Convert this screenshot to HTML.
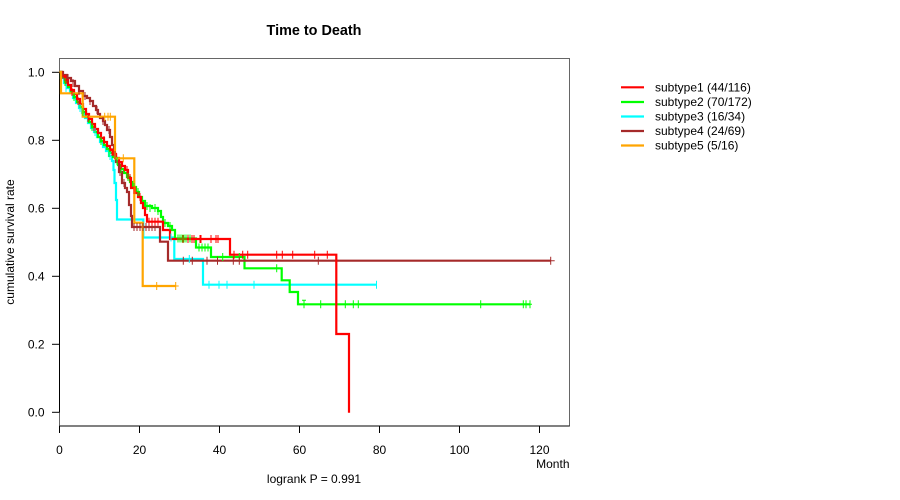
<!DOCTYPE html>
<html><head><meta charset="utf-8"><style>
html,body{margin:0;padding:0;background:#fff;}
svg{display:block;font-family:"Liberation Sans",Arial,sans-serif;}
</style></head><body>
<svg width="900" height="500" viewBox="0 0 900 500" xmlns="http://www.w3.org/2000/svg">
<rect x="0" y="0" width="900" height="500" fill="#fff"/>
<text x="314" y="35" font-size="14.4" font-weight="bold" text-anchor="middle">Time to Death</text>
<!-- box -->
<rect x="59.5" y="58.5" width="510" height="367.5" fill="none" stroke="#666" stroke-width="1"/>
<!-- axes -->
<line x1="59.5" y1="72.3" x2="59.5" y2="412.3" stroke="#000" stroke-width="1"/>
<line x1="59.5" y1="426" x2="569.5" y2="426" stroke="#000" stroke-width="1"/>
<g stroke="#000" stroke-width="1">
<line x1="59.5" y1="426" x2="59.5" y2="433"/>
<line x1="139.5" y1="426" x2="139.5" y2="433"/>
<line x1="219.5" y1="426" x2="219.5" y2="433"/>
<line x1="299.5" y1="426" x2="299.5" y2="433"/>
<line x1="379.5" y1="426" x2="379.5" y2="433"/>
<line x1="459.5" y1="426" x2="459.5" y2="433"/>
<line x1="539.5" y1="426" x2="539.5" y2="433"/>
<line x1="52" y1="412.3" x2="59.5" y2="412.3"/>
<line x1="52" y1="344.3" x2="59.5" y2="344.3"/>
<line x1="52" y1="276.3" x2="59.5" y2="276.3"/>
<line x1="52" y1="208.3" x2="59.5" y2="208.3"/>
<line x1="52" y1="140.3" x2="59.5" y2="140.3"/>
<line x1="52" y1="72.3" x2="59.5" y2="72.3"/>
</g>
<g font-size="12" text-anchor="middle">
<text x="59.5" y="454">0</text>
<text x="139.5" y="454">20</text>
<text x="219.5" y="454">40</text>
<text x="299.5" y="454">60</text>
<text x="379.5" y="454">80</text>
<text x="459.5" y="454">100</text>
<text x="539.5" y="454">120</text>
</g>
<g font-size="12" text-anchor="end">
<text x="44.5" y="416.5">0.0</text>
<text x="44.5" y="348.5">0.2</text>
<text x="44.5" y="280.5">0.4</text>
<text x="44.5" y="212.5">0.6</text>
<text x="44.5" y="144.5">0.8</text>
<text x="44.5" y="76.5">1.0</text>
</g>
<text x="569.5" y="468" font-size="12" text-anchor="end">Month</text>
<text x="314" y="483" font-size="12" text-anchor="middle">logrank P = 0.991</text>
<text transform="translate(14,242) rotate(-90)" font-size="12" text-anchor="middle">cumulative survival rate</text>

<g fill="none" stroke-width="2.2" stroke-linejoin="miter">
<!-- cyan -->
<path stroke="#00FFFF" d="M59.5,72 H61 V78 H64 V83 H67 V88 H70 V93 H73 V98 H76 V103 H79 V108 H82 V113 H85 V118 H88 V123 H91 V128 H94 V132 H97 V137 H100 V142 H103 V147 H106 V151 H109 V156 H112 V161 H113.5 V170 H114.5 V183 H116 V200 H117 V219.5 H143.3 V237.5 H174.3 V259 H203 V284.7 H377"/>
<!-- green -->
<path stroke="#00FF00" d="M59.5,72 H62 V77 H65 V82 H68 V87 H71 V92 H74 V97 H77 V102 H80 V107 H83 V112 H86 V117 H89 V122 H92 V127 H95 V132 H98 V137 H101 V141 H104 V145 H107 V149 H110 V153 H113 V157 H116 V161 H118 V165 H121 V169 H124 V173 H127 V177 H130 V182 H133 V187 H136 V192 H139 V197 H142 V201 H145 V206 H152 V208 H158 V211 H161 V217 H163 V223 H168 V226 H172 V230 H175 V238.5 H196 V247.5 H211 V257 H244.5 V268.3 H281.7 V280.3 H289.7 V292 H298 V304.3 H530"/>
<!-- brown -->
<path stroke="#A52A2A" d="M59.5,72 H63 V75 H67 V78 H71 V81 H75 V86 H79 V91 H83 V96 H87 V98 H90 V101 H93 V106 H96 V110 H98 V114 H100 V118 H103 V121 H105 V125 H107 V130 H110 V137 H112 V145 H114 V155 H116 V162 H119 V172 H122 V183 H125 V188 H127 V192 H129 V205 H131 V216 H132 V227 H160 V241.7 H168 V260.7 H550.7"/>
<!-- red -->
<path stroke="#FF0000" d="M59.5,72 H62 V76 H65 V80 H68 V85 H71 V90 H74 V94 H77 V99 H80 V104 H83 V109 H86 V114 H89 V119 H92 V124 H95 V129 H98 V133 H101 V138 H104 V142 H107 V146 H110 V150 H113 V154 H116 V158 H119 V162 H122 V166 H125 V170 H128 V178 H131 V188 H135 V193 H138 V197 H141 V203 H143 V208 H145 V215 H147 V221.7 H163 V230 H170 V239 H230 V254.7 H336.3 V334 H349 V412.7"/>
<!-- orange -->
<path stroke="#FFA500" d="M59.5,72 H61 V93.3 H82.7 V116.7 H115 V158.3 H134.3 V222.7 H142.7 V286 H175.7"/>
</g>

<!-- censor marks -->
<g stroke-width="1">
<path stroke="#00FFFF" d="M66,84v8 M80,104v8 M95,128v8 M110,152v8 M189.3,255v8 M209,280.7v8 M219,280.7v8 M227,280.7v8 M254,280.7v8 M376.5,280.7v8 M171,233.5v8"/>
<path stroke="#00FF00" d="M65,78v8 M74,93v8 M83,108v8 M92,123v8 M101,137v8 M109,149v8 M117,157v8 M121,165v8 M128,173v8 M134,183v8 M138,188v8 M147,202v8 M150,204v8 M155,204v8 M158,207v8 M165,219v8 M170,222v8 M178,234.5v8 M180,234.5v8 M182,234.5v8 M184,234.5v8 M186,234.5v8 M188,234.5v8 M190,234.5v8 M199,243.5v8 M202,243.5v8 M205,243.5v8 M208,243.5v8 M222.7,253v8 M239.3,253v8 M276.7,264.3v8 M304,300.3v8 M320.7,300.3v8 M345.3,300.3v8 M353.3,300.3v8 M358.3,300.3v8 M480.7,300.3v8 M523.3,300.3v8 M526,300.3v8 M530,300.3v8 M302,300.3h4 M528,304.3h4"/>
<path stroke="#A52A2A" d="M63,71v8 M68,74v8 M73,79v8 M79,87v8 M85,92v8 M90,97v8 M97,106v8 M103,117v8 M109,126v8 M115,151v8 M120,168v8 M124,179v8 M134,223v8 M137,223v8 M140,223v8 M143,223v8 M146,223v8 M149,223v8 M152,223v8 M155,223v8 M183.3,256.7v8 M192.3,256.7v8 M207,256.7v8 M217.5,256.7v8 M233.3,256.7v8 M239.3,256.7v8 M318.3,256.7v8 M550.7,256.7v8 M550.7,260.7h4"/>
<path stroke="#FF0000" d="M66,76v8 M72,88v8 M78,97v8 M88,114v8 M94,123v8 M104,136v8 M112,148v8 M121,161v8 M127,166v8 M130,174v8 M134,186v8 M140,193v8 M149,217.7v8 M152,217.7v8 M155,217.7v8 M158,217.7v8 M183,235v8 M188,235v8 M192,235v8 M194,235v8 M200,235v8 M201,235v8 M211,235v8 M216,235v8 M218,235v8 M234,250.7v8 M242.7,250.7v8 M247.7,250.7v8 M276.7,250.7v8 M282.3,250.7v8 M292.7,250.7v8 M314.7,250.7v8 M327.3,250.7v8"/>
<path stroke="#FFA500" d="M104.7,112.7v8 M108,112.7v8 M110.3,112.7v8 M123.3,154.3v8 M156.7,282v8 M175.7,282v8 M175.7,286h3"/>
</g>

<!-- legend -->
<g stroke-width="2.2">
<line x1="621" y1="87.3" x2="644" y2="87.3" stroke="#FF0000"/>
<line x1="621" y1="102" x2="644" y2="102" stroke="#00FF00"/>
<line x1="621" y1="116.5" x2="644" y2="116.5" stroke="#00FFFF"/>
<line x1="621" y1="131" x2="644" y2="131" stroke="#A52A2A"/>
<line x1="621" y1="145.5" x2="644" y2="145.5" stroke="#FFA500"/>
</g>
<g font-size="12">
<text x="655" y="91.5">subtype1 (44/116)</text>
<text x="655" y="106.2">subtype2 (70/172)</text>
<text x="655" y="120.7">subtype3 (16/34)</text>
<text x="655" y="135.2">subtype4 (24/69)</text>
<text x="655" y="149.7">subtype5 (5/16)</text>
</g>
</svg>
</body></html>
